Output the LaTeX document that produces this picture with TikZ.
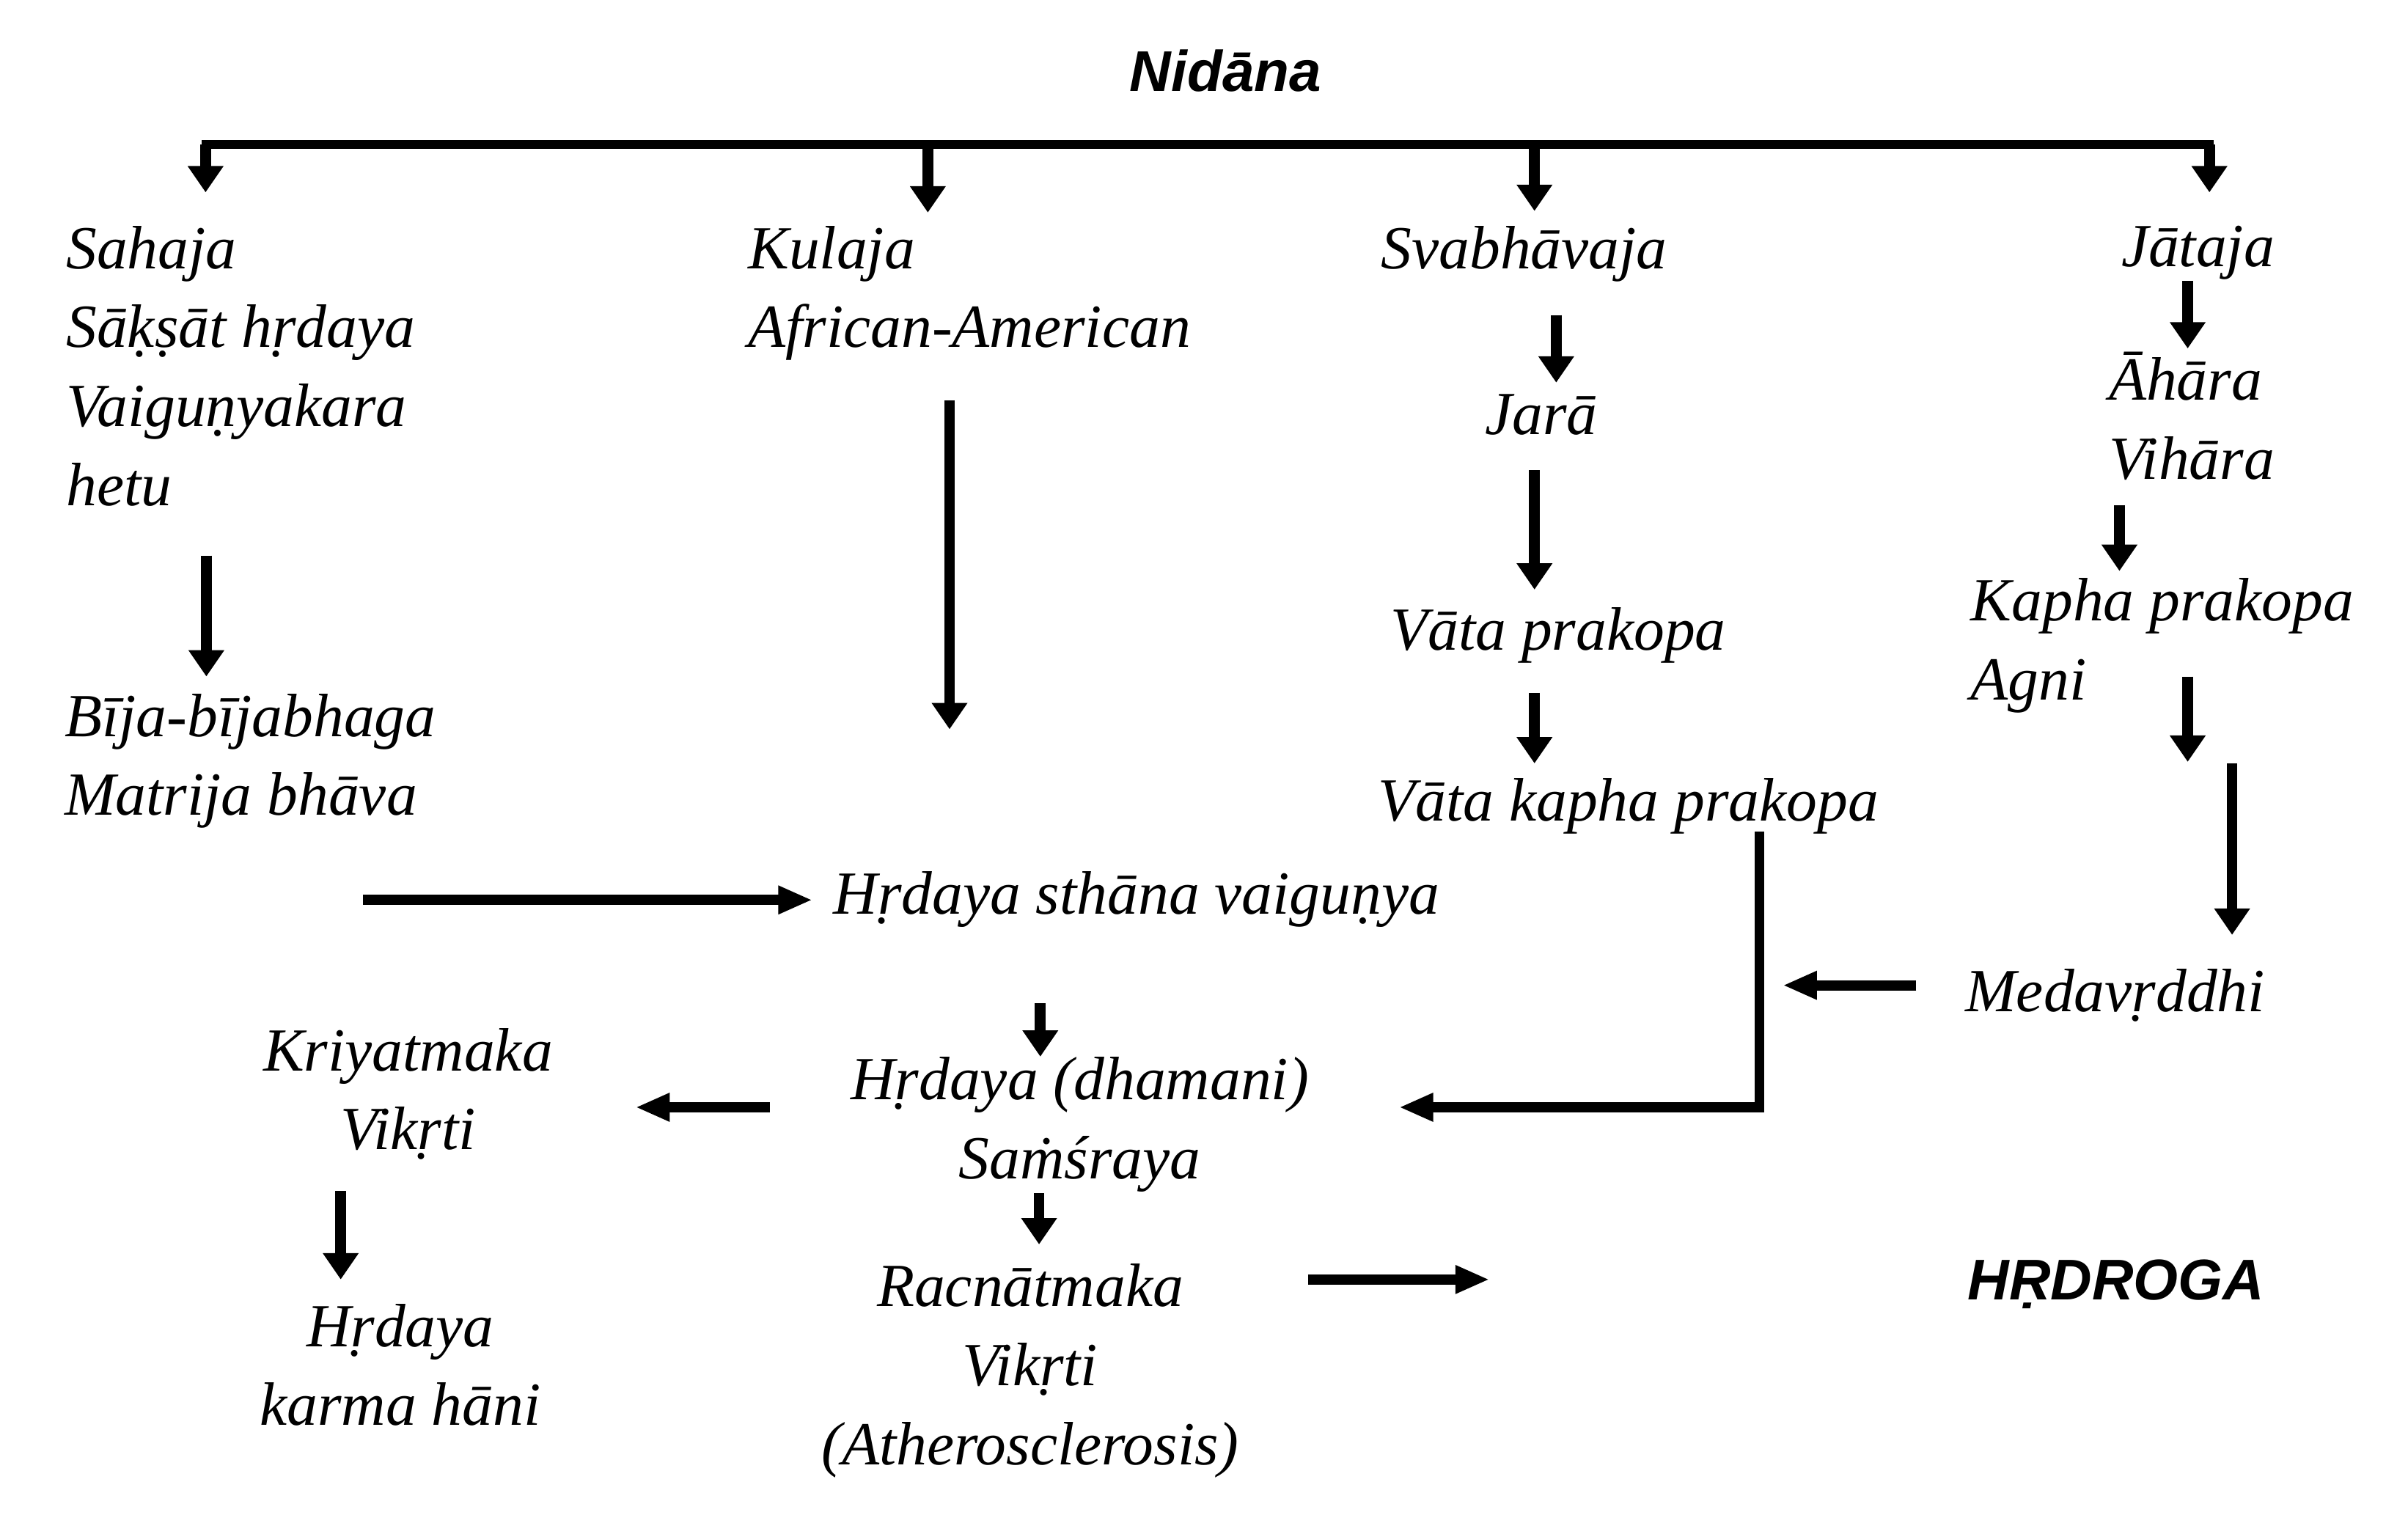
\documentclass[tikz,border=0pt]{standalone}
\usepackage{fontspec}
\setmainfont{Liberation Serif}
\newfontfamily\headfont{Liberation Sans}
\usetikzlibrary{arrows.meta}

\tikzset{
  lbl/.style={font=\fontsize{39.5}{51}\selectfont\itshape, inner sep=0pt, anchor=base west, align=left},
  clbl/.style={lbl, anchor=base, align=center},
  head/.style={font=\headfont\fontsize{37}{44}\selectfont\bfseries\itshape, inner sep=0pt, anchor=base west},
  varr/.style={line width=7pt, -{Triangle[width=22pt,length=17pt]}},
  harr/.style={line width=6.5pt, -{Triangle[width=17pt,length=22pt]}},
}

\begin{document}
\begin{tikzpicture}[x=1pt, y=-1pt, line join=miter]
\useasboundingbox (0,0) rectangle (1552,976);

% texts (multi-line nodes sit on the baseline of their last line)
\node[head] (nidana) at (728,59) {Nidāna};
\node[lbl] (sahaja) at (42.5,326) {Sahaja\\Sāḳṣāt hṛdaya\\Vaiguṇyakara\\hetu};
\node[lbl] (bija) at (41.5,525.5) {Bīja-bījabhaga\\Matrija bhāva};
\node[lbl] (kulaja) at (482,224) {Kulaja\\African-American};
\node[lbl] (svabha) at (890,173) {Svabhāvaja};
\node[lbl] (jara) at (957,280) {Jarā};
\node[lbl] (vata) at (896,419) {Vāta prakopa};
\node[lbl] (vatakapha) at (888,529) {Vāta kapha prakopa};
\node[lbl] (jataja) at (1367,172) {Jātaja};
\node[lbl] (ahara) at (1359,309) {Āhāra\\Vihāra};
\node[lbl] (kapha) at (1270,451) {Kapha prakopa\\Agni};
\node[lbl] (meda) at (1266.5,652) {Medavṛddhi};
\node[lbl] (sthana) at (537,589) {Hṛdaya sthāna vaiguṇya};
\node[clbl] (dhamani) at (696,759.6) {Hṛdaya (dhamani)\\Saṁśraya};
\node[clbl] (kriya) at (263,741) {Kriyatmaka\\Vikṛti};
\node[clbl] (hani) at (258,918.7) {Hṛdaya\\karma hāni};
\node[clbl] (racna) at (664,944) {Racnātmaka\\Vikṛti\\(Atherosclerosis)};
\node[head] (hrdroga) at (1268,837.5) {HṚDROGA};

% top bar
\coordinate (bS) at (132.5,93);
\coordinate (bK) at (598,93);
\coordinate (bV) at (989,93);
\coordinate (bJ) at (1424,93);
\coordinate (tS) at (132.5,124);
\coordinate (tK) at (598,137);
\coordinate (tV) at (989,136);
\coordinate (tJ) at (1424,124);
\draw[line width=5.5pt, line cap=rect] (bS) -- (bJ);
\draw[varr] (bS) -- (tS);
\draw[varr] (bK) -- (tK);
\draw[varr] (bV) -- (tV);
\draw[varr] (bJ) -- (tJ);

% left column
\coordinate (sah1) at (133,358);
\coordinate (sah2) at (133,436);
\draw[varr] (sah1) -- (sah2);
\coordinate (bij1) at (234,580);
\coordinate (bij2) at (523.6,580);
\draw[harr] (bij1) -- (bij2);
\coordinate (kul1) at (612,258);
\coordinate (kul2) at (612,470);
\draw[varr] (kul1) -- (kul2);

% svabhavaja column
\coordinate (sva1) at (1003,203);
\coordinate (sva2) at (1003,246.6);
\draw[varr] (sva1) -- (sva2);
\coordinate (jar1) at (989,303);
\coordinate (jar2) at (989,380);
\draw[varr] (jar1) -- (jar2);
\coordinate (vat1) at (989,446.5);
\coordinate (vat2) at (989,492);
\draw[varr] (vat1) -- (vat2);
\coordinate (vk1) at (1134,536);
\coordinate (vk2) at (901.7,713.6);
\draw[harr] (vk1) |- (vk2);

% jataja column
\coordinate (jat1) at (1410,181);
\coordinate (jat2) at (1410,224.6);
\draw[varr] (jat1) -- (jat2);
\coordinate (vih1) at (1366,325.5);
\coordinate (vih2) at (1366,368);
\draw[varr] (vih1) -- (vih2);
\coordinate (agn1) at (1410,436);
\coordinate (agn2) at (1410,491);
\draw[varr] (agn1) -- (agn2);
\coordinate (agn3) at (1438.6,492);
\coordinate (agn4) at (1438.6,602.5);
\draw[varr] (agn3) -- (agn4);
\coordinate (med1) at (1235,635);
\coordinate (med2) at (1149,635);
\draw[harr] (med1) -- (med2);

% lower part
\coordinate (sth1) at (670.5,646.6);
\coordinate (sth2) at (670.5,681);
\draw[varr] (sth1) -- (sth2);
\coordinate (dha1) at (496,713.6);
\coordinate (dha2) at (409.6,713.6);
\draw[harr] (dha1) -- (dha2);
\coordinate (kri1) at (219.6,767.6);
\coordinate (kri2) at (219.6,824.6);
\draw[varr] (kri1) -- (kri2);
\coordinate (dha3) at (669.7,769);
\coordinate (dha4) at (669.7,802);
\draw[varr] (dha3) -- (dha4);
\coordinate (rac1) at (843,824.6);
\coordinate (rac2) at (960,824.6);
\draw[harr] (rac1) -- (rac2);

\end{tikzpicture}
\end{document}
